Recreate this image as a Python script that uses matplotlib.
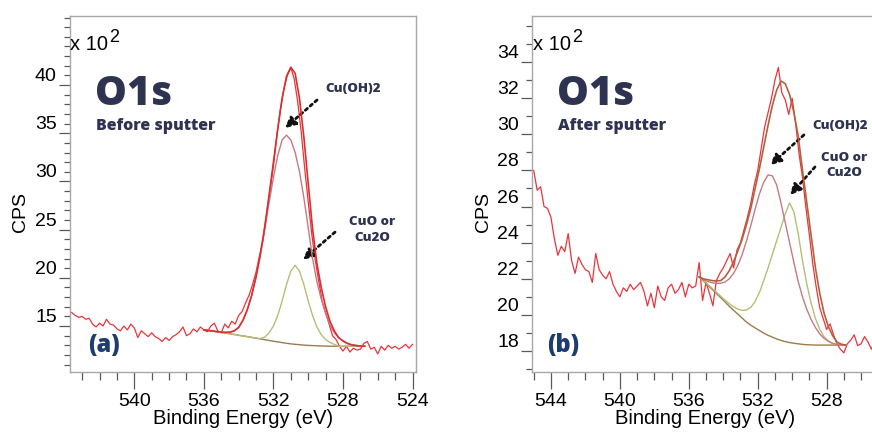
import numpy as np
import matplotlib
matplotlib.use("Agg")
import matplotlib.pyplot as plt
from matplotlib.ticker import MultipleLocator

plt.rcParams.update({
    "font.family": ["Liberation Sans", "DejaVu Sans"],
    "font.size": 14,
})

# ---------------- data ----------------
RAW_STEP = 0.2
FIT_STEP = 0.25

# (a) before sputter: raw counts (x100), 543.6 eV downwards
RAW_A_START = 543.6
raw_a = [16.4, 16.1, 15.9, 16.0, 15.7, 15.8, 15.2, 14.9, 15.3, 15.0,
         15.7, 15.2, 15.1, 14.7, 14.5, 15.0, 14.6, 15.2, 14.8, 13.8,
         14.5, 14.2, 13.9, 14.3, 13.9, 13.7, 13.4, 13.8, 13.5, 13.9,
         14.1, 14.4, 14.9, 14.0, 14.2, 14.7, 14.4, 14.9, 14.6, 14.4,
         15.0, 15.3, 14.5, 14.3, 15.2, 14.8, 15.5, 15.2, 16.1, 16.5,
         17.4, 18.2, 19.3, 20.6, 22.3, 23.9, 26.5, 29.0, 31.6, 34.8,
         37.5, 39.6, 41.0, 41.8, 40.6, 38.2, 35.1, 31.3, 27.9, 24.6,
         21.9, 19.7, 17.6, 16.4, 15.2, 14.0, 13.6, 12.9, 12.4, 12.9,
         12.3, 12.7, 12.5, 12.6, 13.2, 13.4, 12.6, 12.8, 12.1, 12.9,
         12.5, 13.0, 12.7, 12.9, 12.6, 12.8, 13.1, 12.7, 13.1]

# (a) fit curves, 536.0 eV downwards
FIT_A_START = 536.0
base_a = [14.60, 14.54, 14.47, 14.40, 14.33, 14.26, 14.19, 14.12, 14.04, 13.97,
          13.90, 13.82, 13.74, 13.66, 13.58, 13.50, 13.42, 13.35, 13.28, 13.21,
          13.15, 13.10, 13.06, 13.02, 12.99, 12.97, 12.95, 12.93, 12.92, 12.91,
          12.90, 12.90, 12.90, 12.90, 12.90, 12.90, 12.90, 12.90]
cuoh2_a = [14.60, 14.54, 14.48, 14.42, 14.37, 14.34, 14.36, 14.50, 14.85, 15.6,
           16.7, 18.2, 20.1, 22.4, 25.0, 27.8, 30.4, 32.7, 34.3, 34.8,
           34.3, 33.0, 31.0, 28.3, 25.2, 22.0, 19.6, 17.8, 16.3, 15.1,
           14.3, 13.8, 13.45, 13.2, 13.05, 12.98, 12.93, 12.90]
cuo_a = [14.60, 14.54, 14.47, 14.40, 14.33, 14.26, 14.19, 14.12, 14.04, 13.97,
         13.90, 13.82, 13.74, 13.70, 13.85, 14.3, 15.0, 16.1, 17.6, 19.3,
         20.7, 21.3, 20.7, 19.3, 17.6, 16.1, 14.9, 14.1, 13.6, 13.3,
         13.1, 12.90, 12.90, 12.90, 12.90, 12.90, 12.90, 12.90]
env_a = [14.60, 14.54, 14.48, 14.42, 14.37, 14.34, 14.36, 14.50, 14.85, 15.6,
         16.7, 18.2, 20.1, 22.45, 25.3, 28.6, 32.0, 35.45, 38.6, 40.9,
         41.85, 41.2, 38.6, 34.6, 29.8, 25.1, 21.5, 19.0, 17.0, 15.5,
         14.5, 13.8, 13.45, 13.2, 13.05, 12.98, 12.93, 12.90]

# (b) after sputter: raw counts (x100), 545.0 eV downwards
RAW_B_START = 545.0
raw_b = [28.0, 26.9, 27.1, 26.0, 25.9, 25.4, 24.2, 23.3, 23.8, 23.5,
         24.5, 23.0, 22.3, 23.2, 22.8, 22.5, 22.4, 21.8, 23.4, 22.5,
         22.2, 22.0, 22.4, 21.7, 21.3, 21.0, 21.5, 21.3, 21.7, 21.4,
         21.6, 21.8, 21.3, 20.5, 21.2, 20.4, 21.6, 21.0, 20.8, 21.5,
         21.7, 21.2, 21.4, 21.8, 21.0, 21.7, 21.5, 21.6, 22.9, 20.8,
         21.8, 21.2, 20.5, 21.9, 22.3, 22.6, 23.0, 23.4, 22.6, 23.6,
         24.0, 24.7, 25.4, 26.2, 27.2, 28.0, 29.2, 30.4, 31.2, 32.0,
         33.0, 33.7, 32.3, 31.9, 31.1, 32.0, 30.6, 28.9, 27.6, 25.9,
         24.4, 22.8, 21.5, 20.4, 19.8, 19.2, 19.5, 18.9, 18.4, 18.1,
         17.9, 18.4, 18.6, 18.9, 18.3, 18.4, 18.8, 18.5, 18.1, 18.6,
         18.3, 18.7, 18.2, 18.5, 18.4, 18.6]

# (b) fit curves, 535.4 eV downwards
FIT_B_START = 535.4
base_b = [22.10, 21.87, 21.64, 21.42, 21.19, 20.96, 20.72, 20.48, 20.26, 20.04,
          19.82, 19.60, 19.43, 19.28, 19.14, 18.99, 18.87, 18.77, 18.67, 18.59,
          18.52, 18.47, 18.43, 18.40, 18.37, 18.35, 18.34, 18.33,
          18.33, 18.33, 18.33, 18.33, 18.33, 18.33, 18.33]
cuoh2_b = [22.10, 21.95, 21.85, 21.78, 21.75, 21.75, 21.82, 22.0, 22.3, 22.75,
           23.35, 24.1, 24.95, 25.85, 26.7, 27.35, 27.75, 27.7, 27.2, 26.2,
           25.1, 24.0, 22.9, 21.85, 21.0, 20.3, 19.75, 19.3,
           18.95, 18.7, 18.55, 18.42, 18.37, 18.34, 18.33]
cuo_b = [22.10, 21.90, 21.70, 21.48, 21.26, 21.04, 20.82, 20.62, 20.45, 20.32,
         20.25, 20.27, 20.42, 20.75, 21.25, 21.9, 22.6, 23.35, 24.1, 24.85,
         25.6, 26.2, 25.7, 24.5, 23.0, 21.7, 20.65, 19.8,
         19.2, 18.8, 18.55, 18.42, 18.37, 18.34, 18.33]
env_b = [22.10, 22.0, 21.95, 21.9, 21.88, 21.9, 22.1, 22.45, 22.95, 23.55,
         24.2, 25.0, 25.9, 27.0, 28.1, 29.3, 30.5, 31.6, 32.45, 32.95,
         32.8, 32.2, 31.2, 29.9, 28.0, 26.2, 24.4, 22.6,
         21.2, 20.1, 19.35, 18.85, 18.5, 18.38, 18.33]

# labelled ticks (only these carry numbers)
xticks_a = [540, 536, 532, 528, 524]
xticks_b = [544, 540, 536, 532, 528]
yticks_a = [15, 20, 25, 30, 35, 40]
yticks_b = [18, 20, 22, 24, 26, 28, 30, 32, 34]

# ---------------- colours ----------------
RAW = "#e8353b"; ENV_A = "#d9302f"; ENV_B = "#b4603e"
MAUVE = "#c47a86"; OLIVE = "#b7bd76"; BROWN = "#9e7a4c"
NAVY = "#2f3352"; LBL = "#1f3c70"; FRAME = "#a8a8a8"; TICK = "#5a5a5a"


def energies(start, step, n):
    return start - step * np.arange(n)


def style_axes(ax, xlim, ylim, xticks, yticks):
    ax.set_xlim(*xlim)
    ax.set_ylim(*ylim)
    ax.set_xticks(xticks)
    ax.set_xticklabels([str(v) for v in xticks])
    ax.xaxis.set_minor_locator(MultipleLocator(1))
    ax.yaxis.set_minor_locator(MultipleLocator(1))
    ax.set_yticks(yticks)
    ax.set_yticklabels([str(v) for v in yticks])
    for lab in ax.get_yticklabels():
        lab.set_verticalalignment("bottom")
    ax.tick_params(axis="x", which="major", length=12, width=0.9, color=TICK,
                   direction="out", labelsize=14, pad=3)
    ax.tick_params(axis="x", which="minor", length=6, width=0.9, color=TICK,
                   direction="out")
    ax.tick_params(axis="y", which="major", length=8, width=0.9, color=TICK,
                   direction="out", labelsize=14, pad=1.5)
    ax.tick_params(axis="y", which="minor", length=4, width=0.9, color=TICK,
                   direction="out")
    for sp in ax.spines.values():
        sp.set_color(FRAME)
        sp.set_linewidth(1.0)


def draw_panel(ax, raw_e, raw_v, fit_e, base, c1, c2, env, env_color):
    ax.plot(raw_e, raw_v, color=RAW, lw=0.9, zorder=3)
    ax.plot(fit_e, base, color=BROWN, lw=1.0, zorder=4)
    ax.plot(fit_e, c2, color=OLIVE, lw=1.0, zorder=4)
    ax.plot(fit_e, c1, color=MAUVE, lw=1.0, zorder=4)
    ax.plot(fit_e, env, color=env_color, lw=1.2, zorder=5)


def x10(ax, x, y):
    t = ax.text(x, y, "x 10", transform=ax.transAxes, fontsize=14.5,
                ha="left", va="baseline")
    ax.annotate("2", xy=(1.0, 0.5), xycoords=t, xytext=(0.5, -1),
                textcoords="offset points", fontsize=13, ha="left", va="bottom")


def arrow(ax, start, end):
    ax.annotate("", xy=end, xytext=start, xycoords="axes fraction",
                textcoords="axes fraction",
                arrowprops=dict(arrowstyle="-|>,head_length=0.45,head_width=0.22",
                                linestyle=(0, (1, 1.3)), lw=2.0, color="#111111",
                                shrinkA=0, shrinkB=0))


def bold(ax, x, y, s, size, color, **kw):
    ax.text(x, y, s, transform=ax.transAxes, fontsize=size, fontweight="heavy",
            family="Open Sans", color=color, **kw)


W, H = 872, 432
fig = plt.figure(figsize=(W / 100, H / 100), dpi=100)

# ---------------- panel (a) ----------------
ax = fig.add_axes([70 / W, 60 / H, 346 / W, 356 / H])
draw_panel(ax,
           energies(RAW_A_START, RAW_STEP, len(raw_a)), raw_a,
           energies(FIT_A_START, FIT_STEP, len(base_a)),
           base_a, cuoh2_a, cuo_a, env_a, ENV_A)
style_axes(ax, (543.7, 523.8), (10.23, 47.16), xticks_a, yticks_a)
x10(ax, 0.0, 0.905)
bold(ax, 0.072, 0.75, "O1s", 29, NAVY, va="baseline")
bold(ax, 0.074, 0.68, "Before sputter", 11.5, NAVY, va="baseline")
bold(ax, 0.052, 0.056, "(a)", 17, LBL, va="baseline")
bold(ax, 0.818, 0.796, "Cu(OH)2", 9.5, NAVY, ha="center", va="center")
bold(ax, 0.873, 0.399, "CuO or\nCu2O", 9.5, NAVY, ha="center", va="center",
     linespacing=1.35)
arrow(ax, (0.714, 0.764), (0.621, 0.685))
arrow(ax, (0.766, 0.393), (0.673, 0.315))
fig.text(20 / W, 1 - 212 / H, "CPS", rotation=90, ha="center", va="center", fontsize=14)
fig.text(243 / W, 1 - 409 / H, "Binding Energy (eV)", ha="center", va="top", fontsize=14.5)

# ---------------- panel (b) ----------------
bx = fig.add_axes([532 / W, 60 / H, 367 / W, 356 / H])
draw_panel(bx,
           energies(RAW_B_START, RAW_STEP, len(raw_b)), raw_b,
           energies(FIT_B_START, FIT_STEP, len(base_b)),
           base_b, cuoh2_b, cuo_b, env_b, ENV_B)
style_axes(bx, (545.1, 523.8), (16.84, 36.55), xticks_b, yticks_b)
x10(bx, 0.003, 0.905)
bold(bx, 0.068, 0.75, "O1s", 29, NAVY, va="baseline")
bold(bx, 0.072, 0.68, "After sputter", 11.5, NAVY, va="baseline")
bold(bx, 0.041, 0.056, "(b)", 17, LBL, va="baseline")
bold(bx, 0.839, 0.690, "Cu(OH)2", 9.5, NAVY, ha="center", va="center")
bold(bx, 0.850, 0.579, "CuO or\nCu2O", 9.5, NAVY, ha="center", va="center",
     linespacing=1.35)
arrow(bx, (0.741, 0.666), (0.649, 0.581))
arrow(bx, (0.771, 0.576), (0.703, 0.497))
fig.text(483 / W, 1 - 212 / H, "CPS", rotation=90, ha="center", va="center", fontsize=14)
fig.text(705 / W, 1 - 409 / H, "Binding Energy (eV)", ha="center", va="top", fontsize=14.5)

fig.savefig("out.png", dpi=100)
